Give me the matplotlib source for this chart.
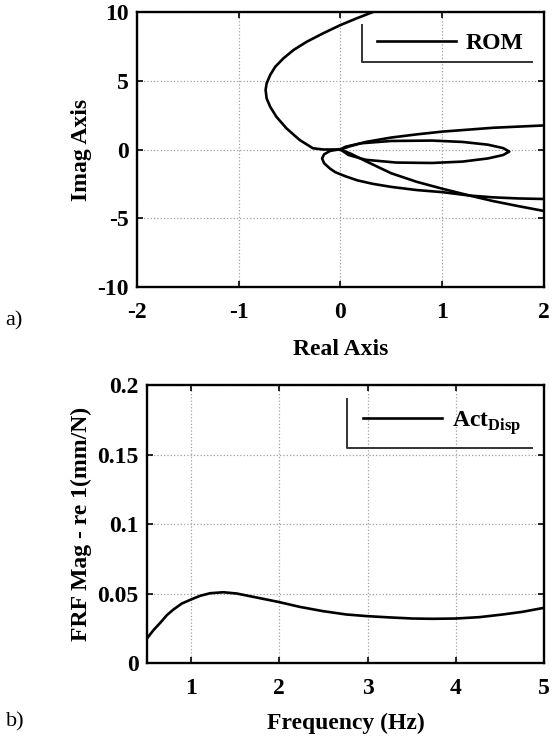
import matplotlib
matplotlib.use('Agg')
import matplotlib.pyplot as plt

plt.rcParams['font.family'] = ['Liberation Serif', 'DejaVu Serif']
plt.rcParams['mathtext.fontset'] = 'custom'
plt.rcParams['mathtext.bf'] = 'Liberation Serif:bold'
plt.rcParams['mathtext.rm'] = 'Liberation Serif:bold'
plt.rcParams['axes.unicode_minus'] = False

# (a) Nyquist plot of the ROM, branches
branch_a_re = [0.32, 0.16, 0.0, -0.17, -0.33, -0.46, -0.56, -0.64, -0.69, -0.725, -0.735,
               -0.725, -0.69, -0.63, -0.53, -0.4, -0.27, -0.17, -0.07, 0.0]
branch_a_im = [10.0, 9.54, 9.05, 8.45, 7.84, 7.24, 6.63, 6.02, 5.42, 4.81, 4.33,
               3.72, 3.11, 2.39, 1.54, 0.69, 0.09, 0.0, 0.0, 0.0]

branch_b_re = [-0.02, -0.1, -0.16, -0.18, -0.16, -0.1, -0.05, 0.05, 0.17, 0.32, 0.5, 0.75,
               1.0, 1.27, 1.5, 1.75, 2.0]
branch_b_im = [0.0, -0.1, -0.35, -0.65, -1.0, -1.4, -1.65, -1.95, -2.25, -2.5, -2.72, -2.95,
               -3.1, -3.35, -3.48, -3.56, -3.6]

branch_c_re = [0.0, 0.1, 0.25, 0.5, 0.75, 1.0, 1.27, 1.5, 1.75, 2.0]
branch_c_im = [0.0, -0.3, -0.85, -1.73, -2.35, -2.85, -3.35, -3.75, -4.12, -4.47]

branch_d_re = [0.0, 0.05, 0.2, 0.5, 0.9, 1.2, 1.45, 1.6, 1.66, 1.6, 1.45, 1.2, 0.9, 0.55,
               0.25, 0.08, 0.0]
branch_d_im = [0.0, 0.2, 0.45, 0.62, 0.65, 0.55, 0.35, 0.1, -0.15, -0.4, -0.65, -0.88, -0.98,
               -0.95, -0.75, -0.4, 0.0]

branch_e_re = [0.0, 0.1, 0.25, 0.5, 0.75, 1.0, 1.5, 2.0]
branch_e_im = [0.0, 0.25, 0.55, 0.87, 1.1, 1.3, 1.58, 1.75]

# (b) FRF magnitude
freq = [0.5, 0.574, 0.65, 0.725, 0.8, 0.895, 1.0, 1.1, 1.215, 1.365, 1.516, 1.704, 2.0,
        2.23, 2.495, 2.76, 3.0, 3.25, 3.51, 3.74, 4.0, 4.27, 4.53, 4.755, 5.0]
mag = [0.0177, 0.0237, 0.0289, 0.0344, 0.0385, 0.0428, 0.0457, 0.0483, 0.0502, 0.0509,
       0.05, 0.0476, 0.0438, 0.0404, 0.0373, 0.0349, 0.0337, 0.0328, 0.032, 0.0318,
       0.032, 0.033, 0.0349, 0.0368, 0.0397]

fs = 17
fig = plt.figure(figsize=(5.52, 7.37), dpi=100)
ax1 = fig.add_axes([0.248, 0.6106, 0.7373, 0.3731])
ax2 = fig.add_axes([0.2663, 0.1004, 0.7192, 0.3772])


def style(ax):
    for s in ax.spines.values():
        s.set_linewidth(1.7)
    ax.tick_params(direction='in', length=4, width=1.2, top=True, right=True,
                   labelsize=fs)
    ax.tick_params(axis='x', pad=11)
    ax.tick_params(axis='y', pad=6)
    for lab in ax.get_xticklabels() + ax.get_yticklabels():
        lab.set_fontweight('bold')
    ax.grid(True, linestyle=':', color='#a0a0a0', linewidth=0.9)
    ax.set_axisbelow(True)


def l_box(ax, x0, x1, y0, y1):
    ax.plot([x0, x0, x1], [y1, y0, y0], color='#333333', lw=1.4,
            transform=ax.transAxes, clip_on=False)


kw = dict(color='black', lw=1.9)
line, = ax1.plot(branch_a_re, branch_a_im, **kw)
ax1.plot(branch_b_re, branch_b_im, **kw)
ax1.plot(branch_c_re, branch_c_im, **kw)
ax1.plot(branch_d_re, branch_d_im, **kw)
ax1.plot(branch_e_re, branch_e_im, **kw)
ax1.set_xlim(-2, 2)
ax1.set_ylim(-10, 10)
ax1.set_xticks([-2, -1, 0, 1, 2])
ax1.set_yticks([-10, -5, 0, 5, 10])
ax1.set_xlabel('Real Axis', fontsize=fs, fontweight='bold', labelpad=11)
ax1.set_ylabel('Imag Axis', fontsize=fs, fontweight='bold')
style(ax1)
ax1.legend([line], ['ROM'], loc='center left', bbox_to_anchor=(0.59, 0.887),
           frameon=False, borderpad=0, borderaxespad=0, handlelength=3.35,
           handletextpad=0.4, prop={'weight': 'bold', 'size': fs})
l_box(ax1, 0.553, 0.97, 0.818, 0.953)

line2, = ax2.plot(freq, mag, **kw)
ax2.set_xlim(0.5, 5)
ax2.set_ylim(0, 0.2)
ax2.set_xticks([1, 2, 3, 4, 5])
ax2.set_yticks([0, 0.05, 0.1, 0.15, 0.2])
ax2.set_yticklabels(['0', '0.05', '0.1', '0.15', '0.2'])
ax2.set_xlabel('Frequency (Hz)', fontsize=fs, fontweight='bold', labelpad=10)
ax2.set_ylabel('FRF Mag - re 1(mm/N)', fontsize=fs, fontweight='bold')
style(ax2)
ax2.legend([line2], [r'$\mathbf{Act}_{\mathbf{Disp}}$'], loc='center left',
           bbox_to_anchor=(0.544, 0.863), frameon=False, borderpad=0,
           borderaxespad=0, handlelength=3.35, handletextpad=0.4,
           prop={'size': fs})
l_box(ax2, 0.504, 0.97, 0.773, 0.95)

fig.text(0.01, 0.565, 'a)', fontsize=16, ha='left', va='center')
fig.text(0.01, 0.02, 'b)', fontsize=16, ha='left', va='center')

fig.savefig('out.png', dpi=100)
